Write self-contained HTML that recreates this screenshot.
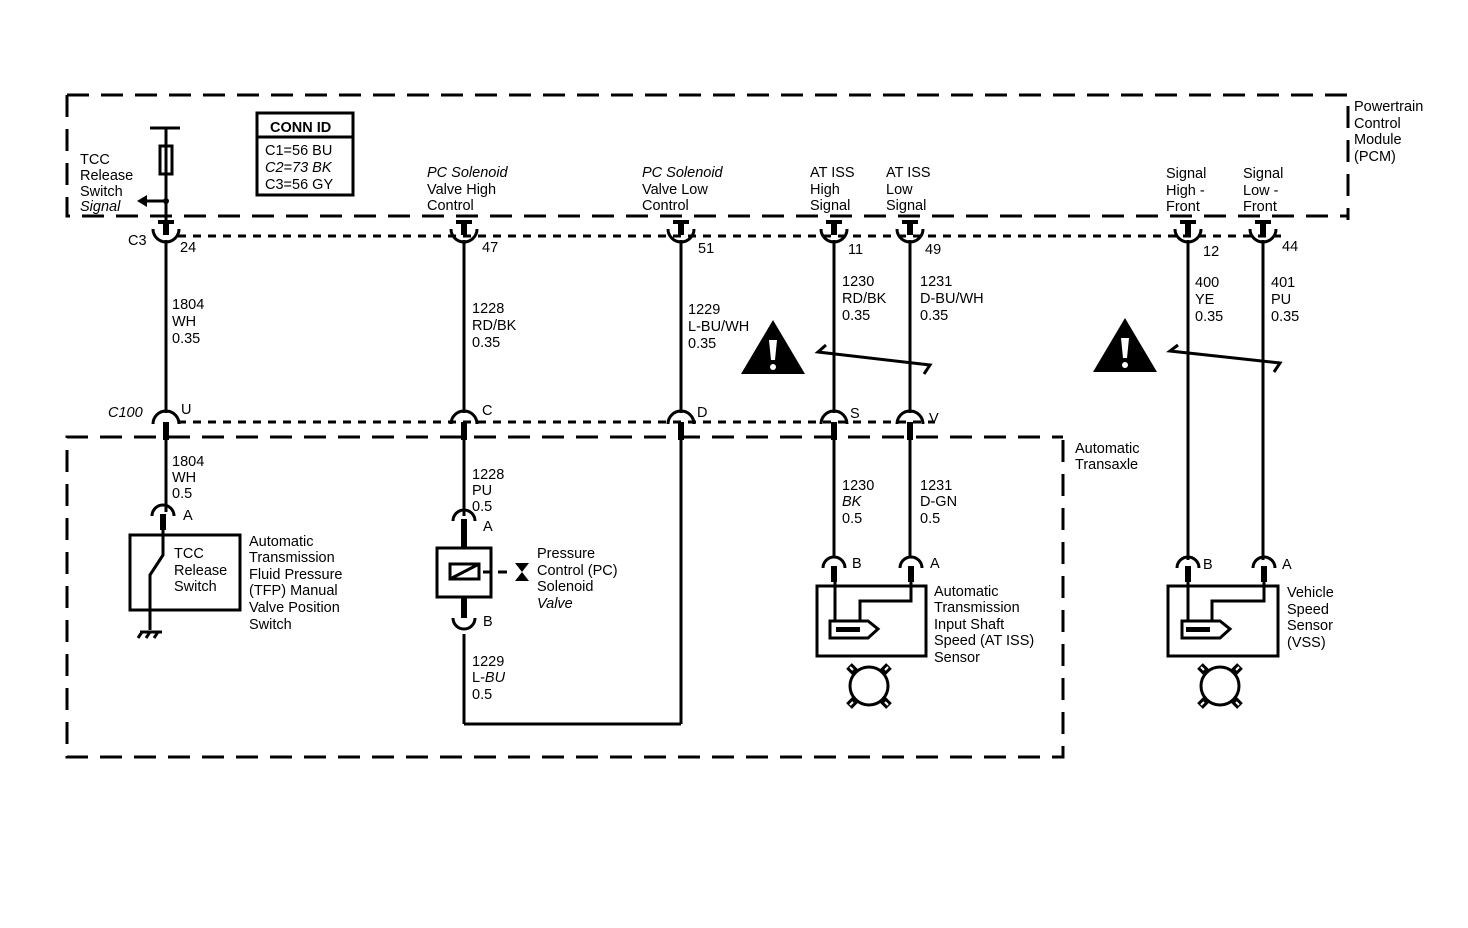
<!DOCTYPE html>
<html><head><meta charset="utf-8"><style>
html,body{margin:0;padding:0;background:#fff;}
svg{display:block;}
text{font-family:"Liberation Sans",Arial,sans-serif;font-size:14.5px;fill:#000;}
.i{font-style:italic;}
</style></head><body>
<svg width="1468" height="928" viewBox="0 0 1468 928" xmlns="http://www.w3.org/2000/svg">
<defs>
<g id="cup"><path d="M-13,229 A13,13 0 0 0 13,229" fill="none" stroke="#000" stroke-width="3"/><rect x="-3" y="220" width="6" height="15"/><rect x="-8" y="220" width="16" height="4"/></g>
<g id="dome"><path d="M-13,424 A13,13 0 0 1 13,424" fill="none" stroke="#000" stroke-width="3"/><rect x="-3" y="422" width="6" height="18"/></g>
<g id="dm"><path d="M-11,11 A11,11 0 0 1 11,11" fill="none" stroke="#000" stroke-width="3"/><rect x="-3" y="9" width="6" height="16"/></g>
<g id="gear"><circle cx="0" cy="0" r="19" fill="none" stroke="#000" stroke-width="3"/>
<g stroke="#000" stroke-width="8"><line x1="-14" y1="-14" x2="-20" y2="-20"/><line x1="14" y1="-14" x2="20" y2="-20"/><line x1="-14" y1="14" x2="-20" y2="20"/><line x1="14" y1="14" x2="20" y2="20"/></g>
<g stroke="#fff" stroke-width="2"><line x1="-16" y1="-16" x2="-19" y2="-19"/><line x1="16" y1="-16" x2="19" y2="-19"/><line x1="-16" y1="16" x2="-19" y2="19"/><line x1="16" y1="16" x2="19" y2="19"/></g></g>
<g id="warn"><polygon points="0,-32 32,22 -32,22"/><path d="M-4,-12 L4,-12 L2,8 L-2,8Z" fill="#fff"/><circle cx="0" cy="15" r="3" fill="#fff"/></g>
</defs>
<g fill="none" stroke="#000">
<path d="M67,95 H1348 V220 M67,95 V216 H1348" stroke-width="3" stroke-dasharray="22,12"/>
<path d="M1063,440 V757 H67 V437 H1063" stroke-width="3" stroke-dasharray="22,12"/>
<line x1="178" y1="236" x2="1282" y2="236" stroke-width="3" stroke-dasharray="8,7"/>
<line x1="178" y1="422" x2="935" y2="422" stroke-width="3" stroke-dasharray="8,7"/>
<g stroke-width="3">
<line x1="166" y1="240" x2="166" y2="413"/>
<line x1="464" y1="240" x2="464" y2="413"/>
<line x1="681" y1="240" x2="681" y2="413"/>
<line x1="834" y1="240" x2="834" y2="413"/>
<line x1="910" y1="240" x2="910" y2="413"/>
<line x1="1188" y1="240" x2="1188" y2="560"/>
<line x1="1263" y1="240" x2="1263" y2="560"/>
<line x1="166" y1="438" x2="166" y2="512"/>
<line x1="464" y1="438" x2="464" y2="516"/>
<line x1="681" y1="438" x2="681" y2="724"/>
<line x1="464" y1="634" x2="464" y2="724"/>
<line x1="464" y1="724" x2="681" y2="724"/>
<line x1="834" y1="438" x2="834" y2="556"/>
<line x1="910" y1="438" x2="910" y2="556"/>
<line x1="166" y1="128" x2="166" y2="222"/>
<line x1="150" y1="128" x2="180" y2="128"/>
<line x1="166" y1="201" x2="145" y2="201"/>
<path d="M826,345 L818,352 L930,365 L924,374"/>
<path d="M1178,345 L1170,351 L1280,363 L1274,372"/>
</g>
<rect x="160" y="146" width="12" height="28" stroke-width="3"/>
<rect x="257" y="113" width="96" height="82" stroke-width="3"/>
<line x1="257" y1="137" x2="353" y2="137" stroke-width="3"/>
</g>
<polygon points="137,201 147,195 147,207"/>
<circle cx="166" cy="201" r="3"/>
<use href="#cup" x="166"/><use href="#cup" x="464"/><use href="#cup" x="681"/><use href="#cup" x="834"/><use href="#cup" x="910"/><use href="#cup" x="1188"/><use href="#cup" x="1263"/>
<use href="#dome" x="166"/><use href="#dome" x="464"/><use href="#dome" x="681"/><use href="#dome" x="834"/><use href="#dome" x="910"/>
<use href="#dm" x="163" y="505"/><use href="#dm" x="464" y="510"/><use href="#dm" x="834" y="557"/><use href="#dm" x="911" y="557"/><use href="#dm" x="1188" y="557"/><use href="#dm" x="1264" y="557"/>
<path d="M453,618 A11,11 0 0 0 475,618" fill="none" stroke="#000" stroke-width="3"/>
<rect x="461" y="598" width="6" height="20"/>
<use href="#warn" x="773" y="352"/><use href="#warn" x="1125" y="350"/>
<g fill="none" stroke="#000" stroke-width="3">
<rect x="130" y="535" width="110" height="75"/>
<path d="M163,530 V555 L150,575 V630"/>
<path d="M140,632 H162 M142,632 l-4,6 M150,632 l-4,6 M158,632 l-4,6"/>
<rect x="437" y="548" width="54" height="49"/>
<rect x="450" y="564" width="29" height="15"/>
<line x1="450" y1="579" x2="479" y2="564"/>
<line x1="483" y1="572" x2="491" y2="572"/><line x1="498" y1="572" x2="507" y2="572"/>
<rect x="817" y="586" width="109" height="70"/>
<path d="M835,580 V622 M911,580 V601 H860 V620"/>
<path d="M830,621 H868 L878,629 L868,638 H830Z"/>
<rect x="1168" y="586" width="110" height="70"/>
<path d="M1188,580 V622 M1264,580 V601 H1212 V620"/>
<path d="M1182,621 H1220 L1230,629 L1220,638 H1182Z"/>
</g>
<polygon points="515,563 529,563 522,572"/><polygon points="515,581 529,581 522,572"/>
<rect x="461" y="528" width="6" height="20"/>
<rect x="836" y="627" width="24" height="5"/><rect x="1186" y="627" width="24" height="5"/>
<use href="#gear" x="869" y="686"/><use href="#gear" x="1220" y="686"/>
<g>
<text x="80" y="164">TCC</text><text x="80" y="180">Release</text><text x="80" y="196">Switch</text><text x="80" y="211" class="i">Signal</text>
<text x="270" y="132" font-weight="bold">CONN ID</text>
<text x="265" y="155">C1=56 BU</text><text x="265" y="172" class="i">C2=73 BK</text><text x="265" y="189">C3=56 GY</text>
<text x="427" y="177" class="i">PC Solenoid</text><text x="427" y="194">Valve High</text><text x="427" y="210">Control</text>
<text x="642" y="177" class="i">PC Solenoid</text><text x="642" y="194">Valve Low</text><text x="642" y="210">Control</text>
<text x="810" y="177">AT ISS</text><text x="810" y="194">High</text><text x="810" y="210">Signal</text>
<text x="886" y="177">AT ISS</text><text x="886" y="194">Low</text><text x="886" y="210">Signal</text>
<text x="1166" y="178">Signal</text><text x="1166" y="195">High -</text><text x="1166" y="211">Front</text>
<text x="1243" y="178">Signal</text><text x="1243" y="195">Low -</text><text x="1243" y="211">Front</text>
<text x="1354" y="111">Powertrain</text><text x="1354" y="128">Control</text><text x="1354" y="144">Module</text><text x="1354" y="161">(PCM)</text>
<text x="128" y="245">C3</text><text x="180" y="252">24</text><text x="482" y="252">47</text><text x="698" y="253">51</text><text x="848" y="254">11</text><text x="925" y="254">49</text><text x="1203" y="256">12</text><text x="1282" y="251">44</text>
<text x="172" y="309">1804</text><text x="172" y="326">WH</text><text x="172" y="343">0.35</text>
<text x="472" y="313">1228</text><text x="472" y="330">RD/BK</text><text x="472" y="347">0.35</text>
<text x="688" y="314">1229</text><text x="688" y="331">L-BU/WH</text><text x="688" y="348">0.35</text>
<text x="842" y="286">1230</text><text x="842" y="303">RD/BK</text><text x="842" y="320">0.35</text>
<text x="920" y="286">1231</text><text x="920" y="303">D-BU/WH</text><text x="920" y="320">0.35</text>
<text x="1195" y="287">400</text><text x="1195" y="304">YE</text><text x="1195" y="321">0.35</text>
<text x="1271" y="287">401</text><text x="1271" y="304">PU</text><text x="1271" y="321">0.35</text>
<text x="108" y="417" class="i">C100</text><text x="181" y="414">U</text><text x="482" y="415">C</text><text x="697" y="417">D</text><text x="850" y="418">S</text><text x="929" y="423">V</text>
<text x="1075" y="453">Automatic</text><text x="1075" y="469">Transaxle</text>
<text x="172" y="466">1804</text><text x="172" y="482">WH</text><text x="172" y="498">0.5</text>
<text x="472" y="479">1228</text><text x="472" y="495">PU</text><text x="472" y="511">0.5</text>
<text x="183" y="520">A</text><text x="483" y="531">A</text><text x="483" y="626">B</text>
<text x="842" y="490">1230</text><text x="842" y="506" class="i">BK</text><text x="842" y="523">0.5</text>
<text x="920" y="490">1231</text><text x="920" y="506">D-GN</text><text x="920" y="523">0.5</text>
<text x="852" y="568">B</text><text x="930" y="568">A</text><text x="1203" y="569">B</text><text x="1282" y="569">A</text>
<text x="174" y="558">TCC</text><text x="174" y="575">Release</text><text x="174" y="591">Switch</text>
<text x="249" y="546">Automatic</text><text x="249" y="562">Transmission</text><text x="249" y="579">Fluid Pressure</text><text x="249" y="595">(TFP) Manual</text><text x="249" y="612">Valve Position</text><text x="249" y="629">Switch</text>
<text x="537" y="558">Pressure</text><text x="537" y="575">Control (PC)</text><text x="537" y="591">Solenoid</text><text x="537" y="608" class="i">Valve</text>
<text x="472" y="666">1229</text><text x="472" y="682">L-<tspan class="i">BU</tspan></text><text x="472" y="699">0.5</text>
<text x="934" y="596">Automatic</text><text x="934" y="612">Transmission</text><text x="934" y="629">Input Shaft</text><text x="934" y="645">Speed (AT ISS)</text><text x="934" y="662">Sensor</text>
<text x="1287" y="597">Vehicle</text><text x="1287" y="614">Speed</text><text x="1287" y="630">Sensor</text><text x="1287" y="647">(VSS)</text>
</g>
</svg>
</body></html>
